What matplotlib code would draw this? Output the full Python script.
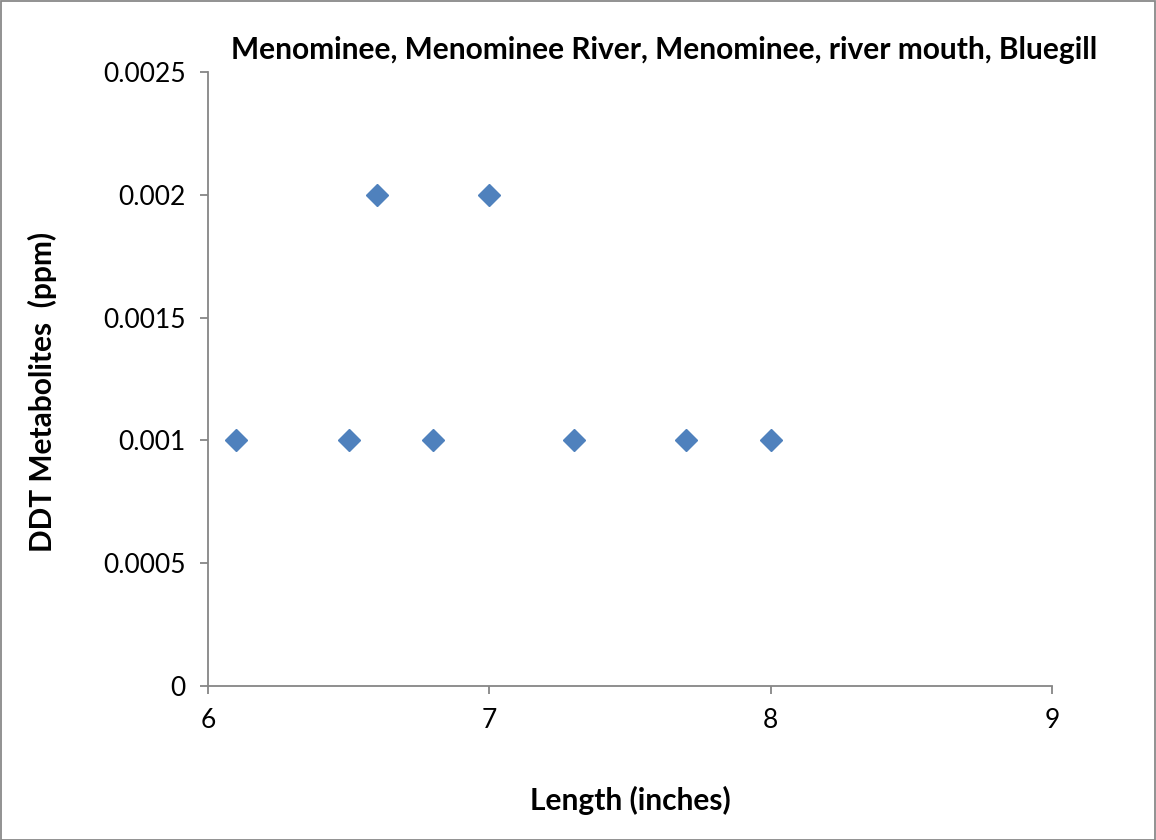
import numpy as np
import matplotlib.pyplot as plt
from matplotlib.patches import Rectangle

# data
length = [6.1, 6.5, 6.6, 6.8, 7.0, 7.3, 7.7, 8.0]
ddt = [0.001, 0.001, 0.002, 0.001, 0.002, 0.001, 0.001, 0.001]
x_ticks = [6, 7, 8, 9]
y_ticks = [0, 0.0005, 0.001, 0.0015, 0.002, 0.0025]
y_labels = ["0", "0.0005", "0.001", "0.0015", "0.002", "0.0025"]

plt.rcParams['font.family'] = ['Lato', 'DejaVu Sans']

fig = plt.figure(figsize=(11.56, 8.4), dpi=100)
ax = fig.add_axes([208/1156, 1-686/840, (1052-208)/1156, (686-72)/840])

ax.plot(length, ddt, linestyle='none', marker='D', markersize=11.5,
        color='#4F81BD', markeredgecolor='#4F81BD', clip_on=False, zorder=5)

ax.set_xlim(6, 9)
ax.set_ylim(0, 0.0025)
ax.set_xticks(x_ticks)
ax.set_yticks(y_ticks)
ax.set_yticklabels(y_labels)

for s in ['top', 'right']:
    ax.spines[s].set_visible(False)
for s in ['left', 'bottom']:
    ax.spines[s].set_color('#868686')
    ax.spines[s].set_linewidth(1.3)
ax.tick_params(axis='both', direction='out', length=6, width=1.3, color='#868686',
               labelsize=19, labelcolor='black')
ax.tick_params(axis='x', pad=10)
ax.tick_params(axis='y', pad=10)

fig.text(664/1156, 1-50/840, "Menominee, Menominee River, Menominee, river mouth, Bluegill",
         ha='center', va='center', fontsize=21.5, fontweight='bold')
fig.text(630/1156, 1-800/840, "Length (inches)", ha='center', va='center',
         fontsize=21.5, fontweight='bold')
fig.text(42/1156, 1-392/840, "DDT Metabolites  (ppm)", ha='center', va='center',
         rotation=90, fontsize=21.5, fontweight='bold')

# outer chart border
fig.patches.append(Rectangle((0.5/1156, 0.5/840), 1-1.5/1156, 1-1.5/840, transform=fig.transFigure,
                             fill=False, edgecolor='#898989', linewidth=1.3))

fig.savefig('out.png', dpi=100)
